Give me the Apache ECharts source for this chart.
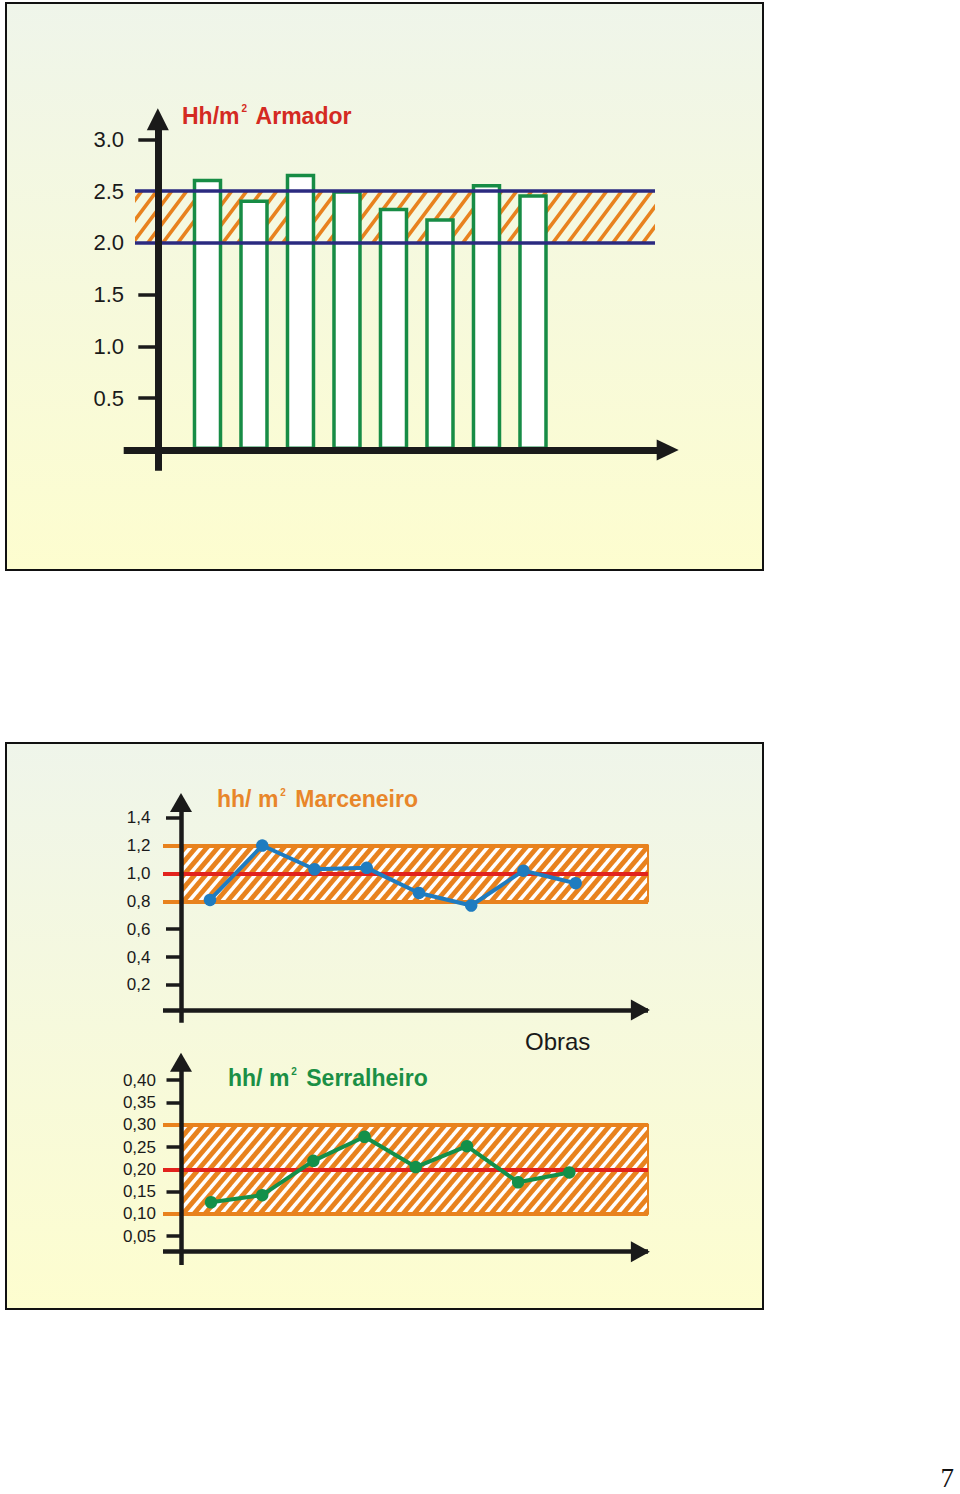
<!DOCTYPE html>
<html>
<head>
<meta charset="utf-8">
<script src="https://cdn.jsdelivr.net/npm/echarts@6/dist/echarts.min.js"></script>
<style>
html,body{margin:0;padding:0;background:#ffffff;}
#chart{width:960px;height:1494px;}
</style>
</head>
<body>
<div id="chart"></div>
<script>
// ---------------- DATA ----------------
const obras = [1, 2, 3, 4, 5, 6, 7, 8];

// Hh/m² Armador (bars)
const armadorValues = [2.62, 2.42, 2.67, 2.51, 2.34, 2.24, 2.57, 2.47];
const armadorTicks = [0.5, 1.0, 1.5, 2.0, 2.5, 3.0];
const armadorTickLabels = ['0.5', '1.0', '1.5', '2.0', '2.5', '3.0'];
const armadorLimits = [2.0, 2.5];

// hh/ m² Marceneiro (line)
const marceneiroValues = [0.81, 1.20, 1.03, 1.04, 0.86, 0.77, 1.02, 0.93];
const marceneiroTicks = [0.2, 0.4, 0.6, 0.8, 1.0, 1.2, 1.4];
const marceneiroTickLabels = ['0,2', '0,4', '0,6', '0,8', '1,0', '1,2', '1,4'];
const marceneiroLimits = [0.8, 1.2];
const marceneiroTarget = 1.0;

// hh/ m² Serralheiro (line)
const serralheiroValues = [0.126, 0.142, 0.219, 0.273, 0.205, 0.252, 0.171, 0.193];
const serralheiroTicks = [0.05, 0.10, 0.15, 0.20, 0.25, 0.30, 0.35, 0.40];
const serralheiroTickLabels = ['0,05', '0,10', '0,15', '0,20', '0,25', '0,30', '0,35', '0,40'];
const serralheiroLimits = [0.10, 0.30];
const serralheiroTarget = 0.20;

const xAxisName = 'Obras';
const pageNumber = '7';

// ---------------- STYLE / LAYOUT ----------------
const RENDERER = 'svg';
const FONT = "'Liberation Sans', Arial, Helvetica, sans-serif";
const AXIS = '#1a1a1a';
const ORANGE = '#e8821e';
const RED = '#e2231d';
const NAVY = '#2b2a80';
const GREEN_BAR = '#178c45';
const BLUE_LINE = '#1f7cc0';
const GREEN_LINE = '#13904a';

function hatchTile(w, h, lineColor, lineWidth, bg) {
  const c = document.createElement('canvas');
  c.width = w; c.height = h;
  const g = c.getContext('2d');
  if (bg) { g.fillStyle = bg; g.fillRect(0, 0, w, h); }
  g.strokeStyle = lineColor; g.lineWidth = lineWidth; g.lineCap = 'butt';
  for (let k = -1; k <= 1; k++) {
    g.beginPath();
    g.moveTo(k * w - w * 0.5, h * 1.5);
    g.lineTo(k * w + w * 1.5, -h * 0.5);
    g.stroke();
  }
  return c;
}
function pattern(c) {
  if (RENDERER === 'svg') {
    return { image: c.toDataURL(), repeat: 'repeat', imageWidth: c.width, imageHeight: c.height };
  }
  return { image: c, repeat: 'repeat' };
}
const hatchTop = pattern(hatchTile(15, 20, ORANGE, 3.6, null));
const hatchBand = pattern(hatchTile(11, 13, ORANGE, 4.8, '#ffffff'));

function labelFor(ticks, labels) {
  return function (v) {
    for (let i = 0; i < ticks.length; i++) if (Math.abs(ticks[i] - v) < 1e-6) return labels[i];
    return '';
  };
}
// tick marks hidden where a reference line already covers them
function tickMarks(ticks, covered) {
  return ticks.filter(t => !covered.some(c => Math.abs(c - t) < 1e-6));
}

function yAxisCfg(o) {
  return {
    type: 'value', gridIndex: o.grid, min: o.min, max: o.max, position: 'left', offset: o.offset, z: 6,
    splitLine: { show: false },
    axisLine: { show: true, onZero: false, symbol: ['none', 'triangle'], symbolSize: o.arrow,
      lineStyle: { color: AXIS, width: o.lineWidth, cap: 'butt' } },
    axisTick: { show: true, customValues: tickMarks(o.ticks, o.covered), length: o.tickLen, lineStyle: { color: AXIS, width: 3.5 } },
    axisLabel: { show: true, customValues: o.ticks, margin: o.margin, formatter: labelFor(o.ticks, o.labels),
      color: '#1a1a1a', fontSize: o.fontSize, fontFamily: FONT }
  };
}
function xAxisCfg(o) {
  return {
    type: 'value', gridIndex: o.grid, min: o.min, max: o.max, position: 'bottom', offset: o.offset, z: 6,
    splitLine: { show: false },
    axisLine: { show: true, onZero: false, symbol: ['none', 'triangle'], symbolSize: o.arrow,
      symbolOffset: [0, o.arrowOffset || 0], lineStyle: { color: AXIS, width: o.lineWidth, cap: 'butt' } },
    axisTick: { show: false },
    axisLabel: { show: false }
  };
}

function titleCfg(text1, sup, text2, color, left, top, size) {
  return {
    text: '{a|' + text1 + '}{s|' + sup + '}{a|' + text2 + '}',
    left: left, top: top, padding: 0,
    textStyle: {
      rich: {
        a: { fontFamily: FONT, fontWeight: 'bold', fontSize: size, color: color, lineHeight: 24 },
        s: { fontFamily: FONT, fontWeight: 'bold', fontSize: 10, color: color, lineHeight: 17, verticalAlign: 'top', padding: [0, 3, 0, 2] }
      }
    }
  };
}

const chart = echarts.init(document.getElementById('chart'), null, { renderer: RENDERER, width: 960, height: 1494 });

const option = {
  backgroundColor: '#ffffff',
  animation: false,
  graphic: [
    { type: 'rect', z: -10, silent: true, shape: { x: 6, y: 3, width: 757, height: 567 },
      style: { fill: new echarts.graphic.LinearGradient(0, 0, 0, 1, [{ offset: 0, color: '#eff5ea' }, { offset: 1, color: '#fdfdcf' }]),
        stroke: '#111111', lineWidth: 2 } },
    { type: 'rect', z: -10, silent: true, shape: { x: 6, y: 743, width: 757, height: 566 },
      style: { fill: new echarts.graphic.LinearGradient(0, 0, 0, 1, [{ offset: 0, color: '#eff5ea' }, { offset: 1, color: '#fdfdcf' }]),
        stroke: '#111111', lineWidth: 2 } }
  ],
  title: [
    titleCfg('Hh/m', '2', ' Armador', '#d42a22', 182, 103.5, 23),
    titleCfg('hh/ m', '2', ' Marceneiro', '#e8862a', 217, 787, 23),
    titleCfg('hh/ m', '2', ' Serralheiro', '#1b8f45', 228, 1066, 23),
    { text: xAxisName, left: 525, top: 1027, padding: 0,
      textStyle: { fontFamily: FONT, fontWeight: 'normal', fontSize: 24, color: '#1a1a1a', lineHeight: 28 } },
    { text: pageNumber, right: 6, top: 1464, padding: 0,
      textStyle: { fontFamily: "'Liberation Serif', 'Times New Roman', serif", fontWeight: 'normal', fontSize: 27, color: '#111111', lineHeight: 27 } }
  ],
  grid: [
    { left: 123.7, right: 292.3, top: 119.2, bottom: 1023.3, containLabel: false, outerBoundsMode: 'none' },
    { left: 163, right: 312, top: 802.5, bottom: 471.3, containLabel: false, outerBoundsMode: 'none' },
    { left: 163, right: 312, top: 1062.2, bottom: 229, containLabel: false, outerBoundsMode: 'none' }
  ],
  xAxis: [
    xAxisCfg({ grid: 0, min: -0.802, max: 10.897, offset: -20.7, arrow: [21, 22], lineWidth: 7 }),
    xAxisCfg({ grid: 1, min: 0.1003, max: 9.3845, offset: -12.7, arrow: [21, 19], arrowOffset: -7.6, lineWidth: 4.5 }),
    xAxisCfg({ grid: 2, min: 0.0625, max: 9.537, offset: -13.3, arrow: [21, 19], arrowOffset: -7.6, lineWidth: 4.5 })
  ],
  yAxis: [
    yAxisCfg({ grid: 0, min: -0.2, max: 3.196, offset: -34.1, arrow: [22, 22], lineWidth: 7,
      ticks: armadorTicks, labels: armadorTickLabels, covered: armadorLimits, tickLen: 19.5, margin: 33.8, fontSize: 22 }),
    yAxisCfg({ grid: 1, min: -0.0709, max: 1.5088, offset: -18, arrow: [22, 19], lineWidth: 4.5,
      ticks: marceneiroTicks, labels: marceneiroTickLabels, covered: marceneiroLimits.concat([marceneiroTarget]),
      tickLen: 15, margin: 30.5, fontSize: 17 }),
    yAxisCfg({ grid: 2, min: -0.0148, max: 0.4404, offset: -18, arrow: [22, 19], lineWidth: 4.5,
      ticks: serralheiroTicks, labels: serralheiroTickLabels, covered: serralheiroLimits.concat([serralheiroTarget]),
      tickLen: 14.5, margin: 25, fontSize: 17 })
  ],
  series: [
    {
      type: 'bar', name: 'Armador', xAxisIndex: 0, yAxisIndex: 0, silent: true, barWidth: 29.5,
      data: obras.map((o, i) => [o, armadorValues[i]]),
      itemStyle: { color: '#ffffff', borderColor: GREEN_BAR, borderWidth: 3.5 },
      emphasis: { disabled: true },
      markArea: {
        silent: true,
        itemStyle: { color: hatchTop, borderWidth: 0 },
        data: [[{ coord: [-0.559, armadorLimits[1]] }, { coord: [10.624, armadorLimits[0]] }]]
      },
      markLine: {
        silent: true, symbol: ['none', 'none'], label: { show: false },
        lineStyle: { color: NAVY, width: 3.5, type: 'solid' },
        emphasis: { disabled: true },
        data: armadorLimits.map(v => [{ coord: [-0.559, v] }, { coord: [10.624, v] }])
      }
    },
    {
      type: 'line', name: 'Marceneiro', xAxisIndex: 1, yAxisIndex: 1, silent: true, z: 10,
      data: obras.map((o, i) => [o, marceneiroValues[i]]),
      symbol: 'circle', symbolSize: 12.5,
      lineStyle: { color: BLUE_LINE, width: 4 },
      itemStyle: { color: BLUE_LINE },
      emphasis: { disabled: true },
      markArea: {
        silent: true,
        itemStyle: { color: hatchBand, borderColor: ORANGE, borderWidth: 2 },
        data: [[{ coord: [0.4449, marceneiroLimits[1]] }, { coord: [9.3845, marceneiroLimits[0]] }]]
      },
      markLine: {
        silent: true, symbol: ['none', 'none'], label: { show: false },
        emphasis: { disabled: true },
        data: [
          { yAxis: marceneiroLimits[1], lineStyle: { color: ORANGE, width: 4, type: 'solid' } },
          { yAxis: marceneiroLimits[0], lineStyle: { color: ORANGE, width: 4, type: 'solid' } },
          { yAxis: marceneiroTarget, lineStyle: { color: RED, width: 4, type: 'solid' } }
        ]
      }
    },
    {
      type: 'line', name: 'Serralheiro', xAxisIndex: 2, yAxisIndex: 2, silent: true, z: 10,
      data: obras.map((o, i) => [o, serralheiroValues[i]]),
      symbol: 'circle', symbolSize: 12.5,
      lineStyle: { color: GREEN_LINE, width: 4 },
      itemStyle: { color: GREEN_LINE },
      emphasis: { disabled: true },
      markArea: {
        silent: true,
        itemStyle: { color: hatchBand, borderColor: ORANGE, borderWidth: 2 },
        data: [[{ coord: [0.414, serralheiroLimits[1]] }, { coord: [9.537, serralheiroLimits[0]] }]]
      },
      markLine: {
        silent: true, symbol: ['none', 'none'], label: { show: false },
        emphasis: { disabled: true },
        data: [
          { yAxis: serralheiroLimits[1], lineStyle: { color: ORANGE, width: 4, type: 'solid' } },
          { yAxis: serralheiroLimits[0], lineStyle: { color: ORANGE, width: 4, type: 'solid' } },
          { yAxis: serralheiroTarget, lineStyle: { color: RED, width: 4, type: 'solid' } }
        ]
      }
    }
  ]
};
chart.setOption(option);
</script>
</body>
</html>
